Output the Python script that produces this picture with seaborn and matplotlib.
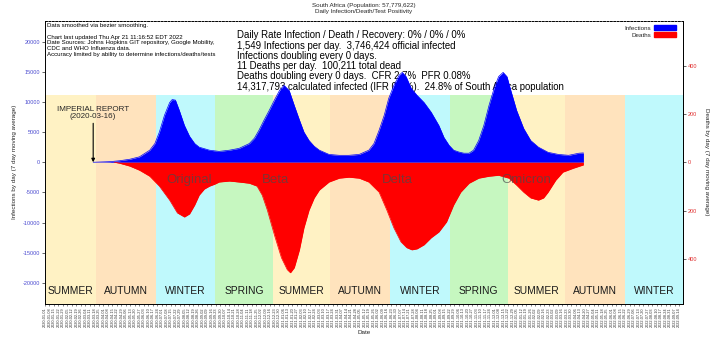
import matplotlib
matplotlib.use("Agg")
import matplotlib.pyplot as plt
import seaborn as sns
import pandas as pd
from matplotlib.patches import Patch

# ---------------- data ----------------
inf_dates = ["2020-03-16", "2020-04-11", "2020-04-26", "2020-05-12", "2020-05-27",
             "2020-06-12", "2020-06-20", "2020-06-27", "2020-07-05", "2020-07-13",
             "2020-07-17", "2020-07-22", "2020-07-28", "2020-08-05", "2020-08-13",
             "2020-08-21", "2020-08-28", "2020-09-13", "2020-09-28", "2020-10-14",
             "2020-10-29", "2020-11-14", "2020-11-22", "2020-11-29", "2020-12-07",
             "2020-12-15", "2020-12-23", "2020-12-31", "2021-01-07", "2021-01-15",
             "2021-01-23", "2021-01-31", "2021-02-07", "2021-02-15", "2021-02-23",
             "2021-03-03", "2021-03-18", "2021-04-03", "2021-04-18", "2021-05-04",
             "2021-05-19", "2021-05-27", "2021-06-04", "2021-06-12", "2021-06-19",
             "2021-06-27", "2021-07-05", "2021-07-10", "2021-07-16", "2021-07-24",
             "2021-08-02", "2021-08-13", "2021-08-24", "2021-09-05", "2021-09-13",
             "2021-09-21", "2021-09-28", "2021-10-06", "2021-10-14", "2021-10-22",
             "2021-10-29", "2021-11-06", "2021-11-14", "2021-11-22", "2021-11-30",
             "2021-12-07", "2021-12-14", "2021-12-20", "2021-12-26", "2022-01-04",
             "2022-01-15", "2022-01-26", "2022-02-07", "2022-02-22", "2022-03-10",
             "2022-03-26", "2022-04-11", "2022-04-18"]
inf_vals = [0, 100, 250, 500, 900,
            2000, 3100, 5000, 7800, 9900,
            10400, 10300, 8600, 6100, 4300,
            3100, 2500, 2000, 1800, 2000,
            2300, 3100, 4000, 5300, 7000,
            8600, 10300, 11900, 12750, 11900,
            9400, 7000, 5000, 3600, 2650,
            2000, 1300, 1150, 1150, 1300,
            2000, 3100, 5300, 7800, 10600,
            12750, 14400, 14900, 14200, 12250,
            11100, 9900, 8300, 6100, 4100,
            2800, 2000, 1700, 1500, 1500,
            2000, 3600, 6100, 9400, 12250,
            14200, 14900, 14200, 11900, 8600,
            5600, 3600, 2500, 1650, 1300,
            1150, 1500, 1549]

death_dates = ["2020-04-18", "2020-04-26", "2020-05-12", "2020-05-27", "2020-06-12",
               "2020-06-27", "2020-07-13", "2020-07-25", "2020-08-05", "2020-08-13",
               "2020-08-21", "2020-08-28", "2020-09-05", "2020-09-13", "2020-09-21",
               "2020-09-28", "2020-10-14", "2020-10-29", "2020-11-14", "2020-11-26",
               "2020-12-04", "2020-12-12", "2020-12-23", "2021-01-03", "2021-01-12",
               "2021-01-17", "2021-01-23", "2021-01-31", "2021-02-07", "2021-02-15",
               "2021-02-23", "2021-03-03", "2021-03-18", "2021-04-03", "2021-04-18",
               "2021-05-04", "2021-05-19", "2021-06-04", "2021-06-16", "2021-06-27",
               "2021-07-08", "2021-07-17", "2021-07-25", "2021-08-02", "2021-08-13",
               "2021-08-24", "2021-09-05", "2021-09-17", "2021-09-28", "2021-10-09",
               "2021-10-22", "2021-11-06", "2021-11-22", "2021-12-07", "2021-12-23",
               "2022-01-04", "2022-01-15", "2022-01-26", "2022-02-07", "2022-02-15",
               "2022-02-22", "2022-03-06", "2022-03-17", "2022-04-02", "2022-04-18"]
death_vals = [0, 4, 16, 33, 58,
              99, 157, 210, 227, 214,
              177, 136, 111, 99, 91,
              82, 78, 82, 87, 99,
              136, 198, 301, 396, 445,
              458, 437, 363, 272, 198,
              148, 115, 82, 66, 62,
              66, 82, 124, 198, 272,
              330, 354, 363, 359, 342,
              313, 289, 247, 177, 124,
              87, 66, 58, 54, 66,
              95, 124, 148, 157, 148,
              124, 74, 41, 25, 11]

season_names = ["SUMMER", "AUTUMN", "WINTER", "SPRING", "SUMMER", "AUTUMN",
                "WINTER", "SPRING", "SUMMER", "AUTUMN", "WINTER"]
season_bounds = ["2020-01-01", "2020-03-20", "2020-06-21", "2020-09-22", "2020-12-21",
                 "2021-03-20", "2021-06-21", "2021-09-22", "2021-12-21", "2022-03-20",
                 "2022-06-21", "2022-09-20"]
season_colors = {"SUMMER": "#FFF2C4", "AUTUMN": "#FFE3BD", "WINTER": "#BFF9FC",
                 "SPRING": "#C6F7C0"}

variant_names = ["Original", "Beta", "Delta", "Omicron"]
variant_dates = ["2020-07-08", "2020-12-04", "2021-06-08", "2021-12-12"]

left_ticks = [-20000, -15000, -10000, -5000, 0, 5000, 10000, 15000, 20000]
right_ticks = [-400, -200, 0, 200, 400]

info_lines = ["Daily Rate Infection / Death / Recovery: 0% / 0% / 0%",
              "1,549 Infections per day.  3,746,424 official infected",
              "Infections doubling every 0 days.",
              "11 Deaths per day.  100,211 total dead",
              "Deaths doubling every 0 days.  CFR 2.7%  PFR 0.08%",
              "14,317,793 calculated infected (IFR 0.7%).  24.8% of South Africa population"]
note_lines = ["Data smoothed via bezier smoothing.",
              "",
              "Chart last updated Thu Apr 21 11:16:52 EDT 2022",
              "Date Sources: Johns Hopkins GIT repository, Google Mobility,",
              "CDC and WHO Influenza data.",
              "Accuracy limited by ability to determine infections/deaths/tests"]

# ---------------- figure ----------------
sns.set_theme(style="white")
plt.rcParams["font.family"] = ["Liberation Sans", "DejaVu Sans"]

W, H = 720, 340
fig = plt.figure(figsize=(W / 100, H / 100), dpi=100)
fig.subplots_adjust(left=45 / W, right=683 / W, top=1 - 20.5 / H, bottom=1 - 304 / H)
ax = fig.add_subplot(111)


def fx(px):
    return px / W


def fy(py):
    return 1 - py / H


df_inf = pd.DataFrame({"date": pd.to_datetime(inf_dates), "cases": inf_vals})
df_d = pd.DataFrame({"date": pd.to_datetime(death_dates), "deaths": death_vals})
df_d["neg"] = -df_d["deaths"]

YMAX = 23500
ax.set_ylim(-YMAX, YMAX)
x0, x1 = pd.Timestamp("2020-01-01"), pd.Timestamp("2022-09-20")
ax.set_xlim(x0, x1)

# season bands
band_top = (11100 + YMAX) / (2 * YMAX)
sb = pd.to_datetime(season_bounds)
for i, name in enumerate(season_names):
    ax.axvspan(sb[i], sb[i + 1], ymin=0, ymax=band_top, color=season_colors[name],
               lw=0, zorder=0)
    mid = sb[i] + (sb[i + 1] - sb[i]) / 2
    ax.text(mid, -21300, name, ha="center", va="center", fontsize=7.4,
            color="#1a1a1a", zorder=1)

# infections
ax.fill_between(df_inf["date"], 0, df_inf["cases"], color="#0000FF", lw=0, zorder=2)
sns.lineplot(data=df_inf, x="date", y="cases", ax=ax, color="#0000FF", lw=0.5,
             zorder=2)

# text blocks (behind the fills)
for i, line in enumerate(info_lines):
    ax.text(fx(237), fy(35.5 + 10.2 * i), line, transform=fig.transFigure,
            fontsize=6.95, ha="left", va="center", color="black", zorder=1)
note_y = [26, 31.5, 37.3, 42.8, 48.5, 54.2]
for y, line in zip(note_y, note_lines):
    ax.text(fx(46.5), fy(y), line, transform=fig.transFigure, fontsize=4.4,
            ha="left", va="center", color="black", zorder=1)

ax.annotate("IMPERIAL REPORT\n(2020-03-16)", xy=(pd.Timestamp("2020-03-16"), 0),
            xytext=(pd.Timestamp("2020-03-16"), 7000), ha="center", va="bottom",
            fontsize=5.8, linespacing=1.1, zorder=3,
            arrowprops=dict(arrowstyle="-|>", color="black", lw=0.8,
                            mutation_scale=5, shrinkA=0, shrinkB=0))

# deaths on twin axis
ax2 = ax.twinx()
ax2.set_ylim(-YMAX / 40, YMAX / 40)
ax2.fill_between(df_d["date"], 0, df_d["neg"], color="#FF0000", lw=0, zorder=2)
sns.lineplot(data=df_d, x="date", y="neg", ax=ax2, color="#FF0000", lw=0.5, zorder=2)
ax2.set_xlim(x0, x1)

for name, d in zip(variant_names, pd.to_datetime(variant_dates)):
    ax2.text(d, -74, name, fontsize=9.5, ha="left", va="center", color="#4a4a4a",
             alpha=0.7, zorder=3)

# axes styling
ax.set_yticks(left_ticks)
ax.set_yticklabels([str(v) for v in left_ticks], fontsize=4, color="#4b4bd0")
ax2.set_yticks(right_ticks)
ax2.set_yticklabels([str(abs(v)) for v in right_ticks], fontsize=4, color="#e03030")

xt = pd.date_range("2020-01-01", "2022-09-20", freq="7D")
ax.set_xticks(xt)
ax.set_xticklabels([d.strftime("%Y-%m-%d") for d in xt], rotation=90, fontsize=2.8,
                   color="#333333")
ax.tick_params(axis="x", length=1.5, width=0.4, pad=1, bottom=True)
ax.tick_params(axis="y", length=2, width=0.5, pad=1.5, left=True)
ax2.tick_params(axis="y", length=2, width=0.5, pad=1.5, right=True)

ax.set_xlabel("Date", fontsize=4.5, labelpad=2)
ax.set_ylabel("Infections by day (7 day moving average)", fontsize=4.5)
ax.yaxis.set_label_coords((17 - 45) / 638, 0.5)
ax2.set_ylabel("Deaths by day (7 day moving average)", fontsize=4.5, rotation=-90,
               va="center")
ax2.yaxis.set_label_coords((707 - 45) / 638, 0.5)

for a in (ax, ax2):
    for s in a.spines.values():
        s.set_color("black")
        s.set_linewidth(0.7)
ax.spines["top"].set_linestyle((0, (2, 1.5)))
ax2.spines["top"].set_visible(False)
ax2.spines["left"].set_visible(False)
ax2.spines["bottom"].set_visible(False)

# legend
handles = [Patch(color="#0000FF"), Patch(color="#FF0000")]
leg = ax2.legend(handles, ["Infections", "Deaths"], loc="upper right",
                 bbox_to_anchor=(fx(679), fy(22)), bbox_transform=fig.transFigure,
                 markerfirst=False, frameon=False, fontsize=4.5, handlelength=3.5,
                 handleheight=0.8, labelspacing=0.25, handletextpad=0.5, borderpad=0)

# titles
fig.text(fx(364), fy(5.5), "South Africa (Population: 57,779,622)", ha="center",
         va="center", fontsize=4.5)
fig.text(fx(364), fy(11.5), "Daily Infection/Death/Test Positivity", ha="center",
         va="center", fontsize=4.5)

fig.savefig("out.png", dpi=100)
